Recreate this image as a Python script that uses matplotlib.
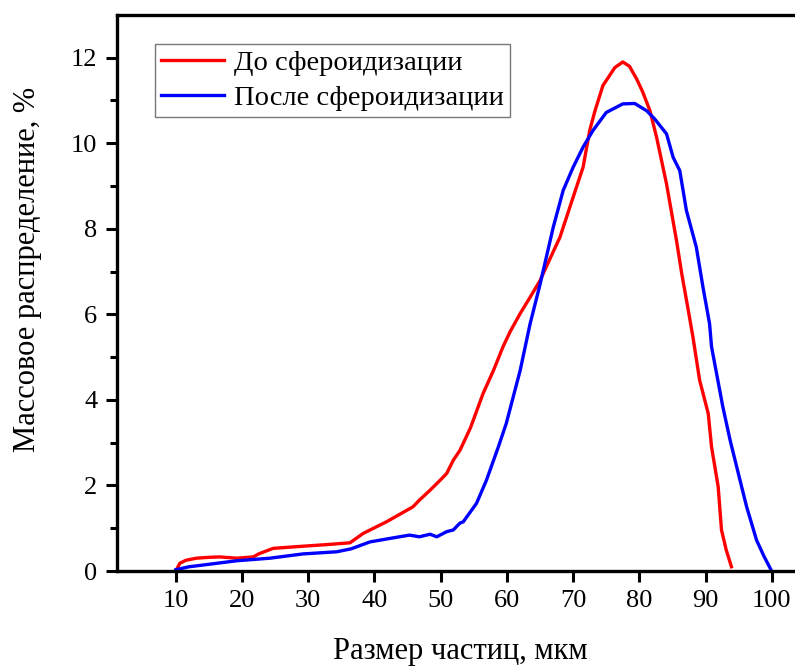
import numpy as np
import matplotlib.pyplot as plt

plt.rcParams['font.family'] = ['Liberation Serif', 'DejaVu Serif']

# До сфероидизации
red_x = [10, 10.6, 11.5, 13.1, 15, 16.6, 19.2, 21.7, 22.5, 24.7, 29.2, 33, 36.3, 38.3,
         41.8, 45.8, 46.8, 48.4, 49.9, 50.9, 51.9, 52.9, 54.5, 56.4, 58, 59.4, 60.5,
         62, 63.5, 65, 66.5, 68, 70, 71.5, 72.5, 73.3, 74.5, 76.3, 77.5, 78.5, 79.6,
         80.5, 81.6, 82.6, 84.1, 85.6, 86.4, 87.3, 88.1, 89.1, 90.4, 90.9, 91.9, 92.4,
         93.1, 93.9]
red_y = [0.0, 0.18, 0.25, 0.30, 0.32, 0.33, 0.30, 0.33, 0.40, 0.53, 0.58, 0.62, 0.66, 0.88,
         1.15, 1.50, 1.66, 1.89, 2.12, 2.28, 2.59, 2.82, 3.35, 4.15, 4.7, 5.24, 5.6,
         6.02, 6.4, 6.79, 7.3, 7.8, 8.74, 9.44, 10.3, 10.76, 11.35, 11.77, 11.9, 11.8, 11.5,
         11.2, 10.76, 10.14, 9.05, 7.73, 6.95, 6.17, 5.46, 4.46, 3.68, 2.90, 1.97, 0.96,
         0.5, 0.10]

# После сфероидизации
blue_x = [10, 12, 14.1, 19.2, 24.2, 29.2, 34.3, 36.5, 39.3, 43, 45.3, 46.8, 47.3, 48.4,
          49.4, 50.9, 51.9, 52.9, 53.4, 55.4, 56.9, 58.7, 59.9, 62, 63.5, 65, 67, 68.5,
          70, 71.5, 73, 75, 77.5, 79.3, 81.1, 82.3, 84.1, 85.1, 86.1, 87.1, 88.6, 89.6,
          90.6, 90.9, 92.6, 93.7, 95.2, 96.2, 97.7, 98.8, 99.9]
blue_y = [0.03, 0.10, 0.14, 0.24, 0.30, 0.40, 0.45, 0.52, 0.68, 0.78, 0.84, 0.80, 0.82, 0.86,
          0.80, 0.92, 0.96, 1.12, 1.15, 1.58, 2.12, 2.90, 3.45, 4.69, 5.78, 6.7, 8.04, 8.9,
          9.44, 9.91, 10.30, 10.72, 10.92, 10.93, 10.76, 10.57, 10.22, 9.67, 9.36, 8.43, 7.57, 6.64,
          5.78, 5.24, 3.84, 3.06, 2.12, 1.50, 0.72, 0.35, 0.02]

xticks = [10, 20, 30, 40, 50, 60, 70, 80, 90, 100]
yticks = [0, 2, 4, 6, 8, 10, 12]

fig = plt.figure(figsize=(7.95, 6.66), dpi=100)
ax = fig.add_axes([0.147, 0.1426, 0.853, 0.835])

ax.plot(red_x, red_y, color='#ff0000', lw=2.4, label='До сфероидизации')
ax.plot(blue_x, blue_y, color='#0000ff', lw=2.4, label='После сфероидизации')

ax.set_xlim(1.1, 103.5)
ax.set_ylim(0, 13)
ax.set_xticks(xticks)
ax.set_yticks(yticks)
ax.set_yticks(np.arange(1, 13, 2), minor=True)

for s in ['left', 'bottom', 'top']:
    ax.spines[s].set_linewidth(2.4)
ax.spines['right'].set_visible(False)

ax.tick_params(axis='both', which='major', direction='out', length=8, width=2.2,
               labelsize=19, pad=6)
ax.tick_params(axis='y', which='minor', direction='out', length=5, width=2.2)
ax.tick_params(top=False, right=False)

ax.set_xlabel('Размер частиц, мкм', fontsize=22)
ax.set_ylabel('Массовое распределение, %', fontsize=22)
ax.xaxis.set_label_coords(0.507, -0.118)
ax.yaxis.set_label_coords(-0.111, 0.542)

leg = ax.legend(loc='upper left', bbox_to_anchor=(0.056, 0.948), fontsize=20.5,
                frameon=True, fancybox=False, edgecolor='#555555',
                handlelength=2.2, borderpad=0.22, labelspacing=0.32, handletextpad=0.35,
                borderaxespad=0)
leg.get_frame().set_linewidth(1.0)

plt.savefig('out.png', dpi=100)
